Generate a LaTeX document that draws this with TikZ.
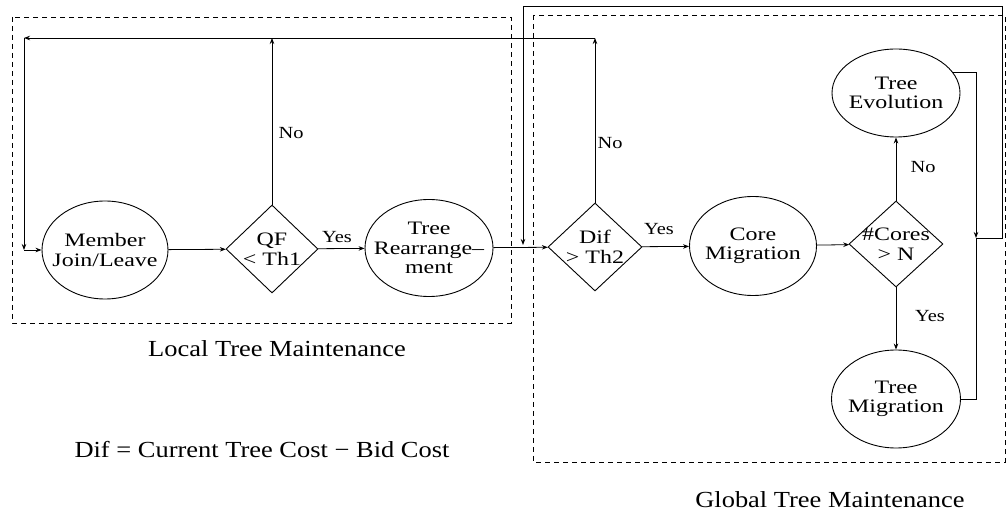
\documentclass[tikz,border=0pt]{standalone}
\usepackage{fontspec}
\setmainfont{Liberation Serif}
\newfontfamily\stretchfont[FakeStretch=1.26]{Liberation Serif}
\newfontfamily\lblfont[FakeStretch=1.2]{Liberation Serif}
\newfontfamily\capfont[FakeStretch=1.15]{Liberation Serif}
\usetikzlibrary{shapes.geometric,arrows.meta}
\begin{document}
\begin{tikzpicture}[x=1pt,y=-1pt,
  ell/.style={draw, ellipse, inner sep=0pt, line width=0.9pt},
  dia/.style={draw, diamond, inner sep=0pt, line width=0.9pt},
  txt/.style={font=\stretchfont\fontsize{19}{19.5}\selectfont, align=center, inner sep=0pt},
  lbl/.style={font=\lblfont\fontsize{17}{18}\selectfont, inner sep=0pt},
  captxt/.style={font=\capfont\fontsize{23}{25}\selectfont, inner sep=0pt},
  conn/.style={line width=0.8pt},
  arr/.style={conn, -{Stealth[length=6pt,width=4.5pt]}},
  box/.style={line width=0.8pt, dash pattern=on 5pt off 4pt},
]
\useasboundingbox (0,0) rectangle (1007,518);

% dashed group boxes
\draw[box] (12,17) rectangle (511,323);
\draw[box] (533,15) rectangle (1005,462);

% nodes
\node[ell, minimum width=126pt, minimum height=98pt] (mem) at (105,250) {};
\node[txt] (memt) at (mem) {Member\\Join/Leave};
\node[dia, minimum width=92pt, minimum height=88pt] (qf) at (272,249) {};
\node[txt] (qft) at (qf) {QF\\< Th1};
\node[ell, minimum width=128pt, minimum height=97pt] (tr) at (429,248) {};
\node[txt] (trt) at (tr) {Tree\\Rearrange–\\ment};
\node[dia, minimum width=94pt, minimum height=88pt] (dif) at (595,247) {};
\node[txt] (dift) at (dif) {Dif\\> Th2};
\node[ell, minimum width=127pt, minimum height=99pt] (core) at (753,246) {};
\node[txt] (coret) at (core) {Core\\Migration};
\node[dia, minimum width=94pt, minimum height=86pt] (cores) at (896,244) {};
\node[txt] (corest) at (cores) {\#Cores\\> N};
\node[ell, minimum width=128pt, minimum height=88pt] (evo) at (896,93) {};
\node[txt] (evot) at (evo) {Tree\\Evolution};
\node[ell, minimum width=129pt, minimum height=98pt] (mig) at (896,399) {};
\node[txt] (migt) at (mig) {Tree\\Migration};

% helper coordinates
\coordinate (tl) at (24,38);
\coordinate (ml) at (24,250);
\coordinate (dtop) at (dif.north |- tl);
\coordinate (qtop) at (qf.north |- tl);
\coordinate (evx) at (evo.20);
\coordinate (jn) at (976,238);
\coordinate (orr) at (1002,6);
\coordinate (oll) at (523,6);
\coordinate (omm) at (523,245);

% local flow
\draw[arr] (mem) -- (qf);
\draw[arr] (qf) -- (tr);
\draw[arr] (qf.north) -- (qtop);
\draw[arr] (tr) -- (dif);
\draw[arr] (dif.north) -- (dtop);
\draw[arr] (dtop) -- (tl);
\draw[arr] (tl) -- (ml);
\draw[arr] (ml) -- (mem);

% global flow
\draw[arr] (dif) -- (core);
\draw[arr] (core) -- (cores);
\draw[arr] (cores) -- (evo);
\draw[arr] (cores) -- (mig);
\draw[arr] (evx) -| (jn);
\draw[conn] (mig.east) -| (jn);
\draw[arr] (jn) -| (orr) -- (oll) -- (omm);

% labels
\node[lbl] (l1) at (291,133) {No};
\node[lbl] (l2) at (337,237) {Yes};
\node[lbl] (l3) at (610,143) {No};
\node[lbl] (l4) at (659,229) {Yes};
\node[lbl] (l5) at (923,167) {No};
\node[lbl] (l6) at (930,316) {Yes};

% captions
\node[captxt] (loc) at (277,349) {Local Tree Maintenance};
\node[captxt] (def) at (262,450) {Dif = Current Tree Cost − Bid Cost};
\node[captxt] (glo) at (830,500) {Global Tree Maintenance};
\end{tikzpicture}
\end{document}
